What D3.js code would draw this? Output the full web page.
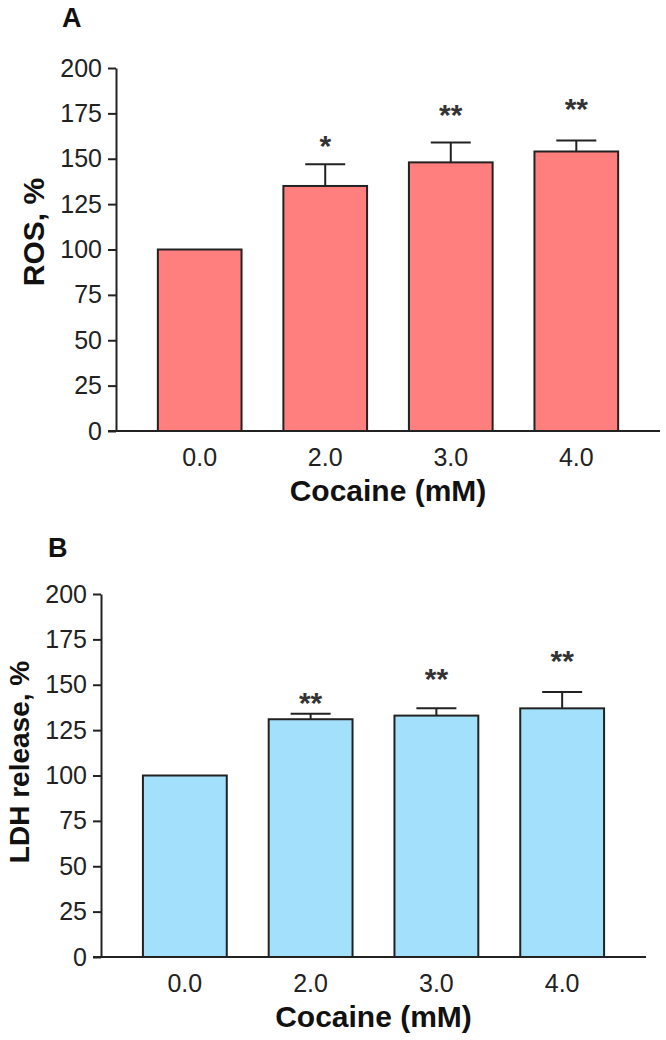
<!DOCTYPE html>
<html>
<head>
<meta charset="utf-8">
<script src="https://cdn.jsdelivr.net/npm/d3@7"></script>
<style>
  body { margin: 0; background: #ffffff; }
  svg { display: block; font-family: "Liberation Sans", Arial, sans-serif; }
</style>
</head>
<body>
<svg></svg>
<script>
// Chart values
const doses = ["0.0", "2.0", "3.0", "4.0"];
const yTicks = [0, 25, 50, 75, 100, 125, 150, 175, 200];

const rosMean = [100, 135, 148, 154];
const rosErr = [0, 12, 11, 6];
const rosStars = ["", "*", "**", "**"];
const rosStarY = [0, 161, 178, 181];

const ldhMean = [100, 131, 133, 137];
const ldhErr = [0, 3, 4, 9];
const ldhStars = ["", "**", "**", "**"];
const ldhStarY = [0, 144, 157, 167];

const svgWidth = 666, svgHeight = 1040;
const ink = "#222";

const svg = d3.select("svg")
    .attr("width", svgWidth)
    .attr("height", svgHeight);

// Draw one bar panel with error bars and significance stars
function drawPanel(p) {
    const g = svg.append("g");

    const y = d3.scaleLinear().domain([0, 200]).range([p.bottom, p.top]);
    const x = d3.scaleBand().domain(doses)
        .range([p.left, p.right])
        .paddingInner(1 / 3)
        .paddingOuter(1 / 3);

    const rows = doses.map((d, i) => ({
        dose: d, mean: p.mean[i], err: p.err[i], star: p.stars[i], starY: p.starY[i]
    }));

    // bars
    g.selectAll("rect.bar")
        .data(rows)
        .join("rect")
        .attr("class", "bar")
        .attr("x", d => x(d.dose))
        .attr("y", d => y(d.mean))
        .attr("width", x.bandwidth())
        .attr("height", d => y(0) - y(d.mean))
        .attr("fill", p.color)
        .attr("stroke", ink)
        .attr("stroke-width", 2);

    // error bars (upper only)
    const eb = g.selectAll("g.err")
        .data(rows.filter(d => d.err > 0))
        .join("g")
        .attr("class", "err")
        .attr("stroke", ink)
        .attr("stroke-width", 2);
    eb.append("line")
        .attr("x1", d => x(d.dose) + x.bandwidth() / 2)
        .attr("x2", d => x(d.dose) + x.bandwidth() / 2)
        .attr("y1", d => y(d.mean))
        .attr("y2", d => y(d.mean + d.err));
    eb.append("line")
        .attr("x1", d => x(d.dose) + x.bandwidth() / 2 - 20)
        .attr("x2", d => x(d.dose) + x.bandwidth() / 2 + 20)
        .attr("y1", d => y(d.mean + d.err))
        .attr("y2", d => y(d.mean + d.err));

    // significance stars
    g.selectAll("text.star")
        .data(rows.filter(d => d.star))
        .join("text")
        .attr("class", "star")
        .attr("x", d => x(d.dose) + x.bandwidth() / 2)
        .attr("y", d => y(d.starY) + 17)
        .attr("text-anchor", "middle")
        .style("font-size", "30px")
        .style("font-weight", "bold")
        .style("fill", "#333")
        .text(d => d.star);

    // y axis
    const yAxis = g.append("g")
        .attr("transform", `translate(${p.left},0)`)
        .call(d3.axisLeft(y).tickValues(yTicks).tickSize(8).tickPadding(6).tickSizeOuter(0));
    yAxis.select(".domain").attr("stroke", ink).attr("stroke-width", 2);
    yAxis.selectAll(".tick line").attr("stroke", ink).attr("stroke-width", 2);
    yAxis.selectAll(".tick text")
        .attr("fill", "#222")
        .style("font-size", "25px")
        .style("font-family", "'Liberation Sans', Arial, sans-serif");

    // x axis baseline, runs from the zero tick to the right edge
    g.append("line")
        .attr("x1", p.left - 8)
        .attr("x2", p.right)
        .attr("y1", y(0))
        .attr("y2", y(0))
        .attr("stroke", ink)
        .attr("stroke-width", 2);

    // x tick labels (no tick marks in the original)
    g.selectAll("text.xlab")
        .data(doses)
        .join("text")
        .attr("class", "xlab")
        .attr("x", d => x(d) + x.bandwidth() / 2)
        .attr("y", y(0) + 35)
        .attr("text-anchor", "middle")
        .style("font-size", "25px")
        .style("fill", "#222")
        .text(d => d);

    // axis titles
    const mid = (x(doses[0]) + x(doses[doses.length - 1]) + x.bandwidth()) / 2;
    g.append("text")
        .attr("x", mid)
        .attr("y", y(0) + 70)
        .attr("text-anchor", "middle")
        .style("font-size", "30px")
        .style("font-weight", "bold")
        .style("fill", "#111")
        .text("Cocaine (mM)");

    g.append("text")
        .attr("transform", `translate(${p.left - 72},${p.titleY}) rotate(-90)`)
        .attr("text-anchor", "middle")
        .style("font-size", p.titleSize)
        .style("font-weight", "bold")
        .style("fill", "#111")
        .text(p.yTitle);

    // panel letter
    g.append("text")
        .attr("x", p.letterX)
        .attr("y", p.letterY)
        .style("font-size", "27px")
        .style("font-weight", "bold")
        .style("fill", "#111")
        .text(p.letter);
}

drawPanel({
    letter: "A", letterX: 62, letterY: 27,
    left: 116, right: 660, top: 68, bottom: 431,
    mean: rosMean, err: rosErr, stars: rosStars, starY: rosStarY,
    color: "#ff7f7f", yTitle: "ROS, %", titleY: 232, titleSize: "30px"
});

drawPanel({
    letter: "B", letterX: 48, letterY: 557,
    left: 101, right: 646, top: 594, bottom: 957,
    mean: ldhMean, err: ldhErr, stars: ldhStars, starY: ldhStarY,
    color: "#a3e0fb", yTitle: "LDH release, %", titleY: 762, titleSize: "28px"
});
</script>
</body>
</html>
